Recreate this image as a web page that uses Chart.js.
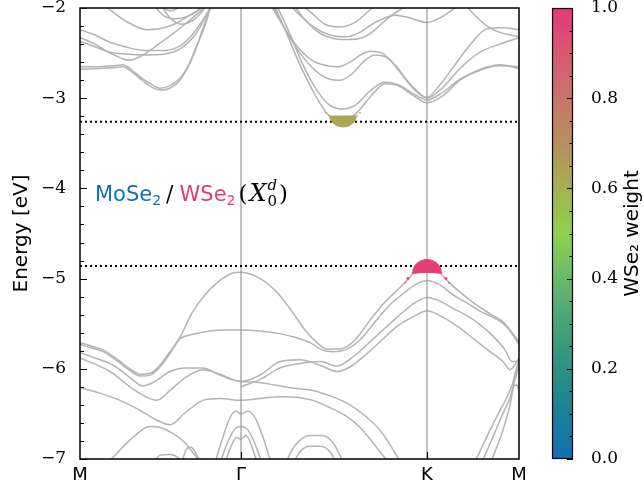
<!DOCTYPE html>
<html lang="en">
<head>
<meta charset="UTF-8">
<title>MoSe2/WSe2 band structure</title>
<script src="https://cdn.jsdelivr.net/npm/chart.js"></script>
<style>
    html, body { margin: 0; padding: 0; background: #fff; }
    #wrap { position: relative; width: 644px; height: 489px; }
    #wrap canvas { position: absolute; left: 0; top: 0; }
</style>
</head>
<body>
<div id="wrap">
    <canvas id="bands" width="644" height="489"></canvas>
    <canvas id="cbar" width="644" height="489"></canvas>
</div>
<script>
// k-path: M - Gamma - K - M
const kTicks = [0, 1.61, 3.47, 4.39];
const kLabels = ['M', 'Γ', 'K', 'M'];
const cbmEnergy = -3.26;
const vbmEnergy = -4.86;

// conduction bands, [k, E(eV)]
const c1 = [[1.92,-1.91],[2.05,-2.24],[2.20,-2.63],[2.35,-2.96],[2.48,-3.18],[2.63,-3.26],[2.77,-3.16],[2.90,-2.99],[3.05,-2.84],[3.18,-2.86],[3.32,-2.96],[3.47,-3.05],[3.62,-2.98],[3.80,-2.80],[4.00,-2.69],[4.20,-2.64],[4.39,-2.65]];
const c2 = [[1.94,-1.91],[2.08,-2.24],[2.23,-2.63],[2.38,-2.93],[2.50,-3.08],[2.62,-3.12],[2.75,-3.08],[2.90,-2.92],[3.05,-2.82],[3.18,-2.85],[3.32,-2.94],[3.47,-3.02],[3.62,-2.94],[3.80,-2.79],[4.00,-2.68],[4.20,-2.63],[4.39,-2.67]];
const c3 = [[1.90,-1.91],[2.03,-2.19],[2.18,-2.47],[2.35,-2.69],[2.50,-2.79],[2.60,-2.80],[2.72,-2.73],[2.85,-2.58],[2.95,-2.52],[3.07,-2.55],[3.20,-2.71],[3.33,-2.89],[3.47,-3.00],[3.62,-2.89],[3.80,-2.67],[4.00,-2.49],[4.20,-2.40],[4.39,-2.33]];
const c4 = [[1.88,-1.91],[2.01,-2.16],[2.16,-2.41],[2.32,-2.58],[2.47,-2.64],[2.58,-2.65],[2.70,-2.60],[2.82,-2.51],[2.90,-2.48],[3.02,-2.50],[3.15,-2.63],[3.30,-2.84],[3.47,-2.99],[3.60,-2.85],[3.75,-2.63],[3.90,-2.41],[4.07,-2.23],[4.23,-2.22],[4.39,-2.24]];
const c5 = [[2.05,-1.91],[2.20,-2.08],[2.35,-2.22],[2.50,-2.30],[2.65,-2.32],[2.80,-2.27],[2.92,-2.18],[3.05,-2.11],[3.15,-2.08],[3.30,-2.11],[3.47,-2.16],[3.60,-2.11],[3.72,-2.02],[3.80,-1.94]];
const c6 = [[2.10,-1.91],[2.25,-2.13],[2.40,-2.28],[2.55,-2.34],[2.70,-2.35],[2.82,-2.33],[2.92,-2.27],[3.03,-2.16],[3.13,-2.07],[3.23,-2.00],[3.30,-1.94]];
const c7 = [[2.15,-1.91],[2.30,-2.04],[2.45,-2.18],[2.60,-2.21],[2.75,-2.16],[2.90,-2.02],[2.98,-1.94]];
const c8 = [[3.82,-1.93],[3.95,-2.08],[4.07,-2.20],[4.20,-2.27],[4.39,-2.32]];
const m1 = [[0.18,-1.91],[0.30,-2.02],[0.45,-2.14],[0.67,-2.24],[0.90,-2.20],[1.10,-2.08],[1.25,-1.97],[1.32,-1.91]];
const m2 = [[0,-2.24],[0.15,-2.30],[0.30,-2.38],[0.45,-2.43],[0.65,-2.47],[0.85,-2.47],[1.00,-2.42],[1.12,-2.30],[1.23,-2.13],[1.32,-1.97],[1.36,-1.91]];
const m3 = [[0,-2.33],[0.15,-2.40],[0.28,-2.49],[0.40,-2.55],[0.48,-2.58],[0.60,-2.54],[0.75,-2.43],[0.90,-2.31],[1.05,-2.18],[1.20,-2.04],[1.30,-1.94]];
const m4 = [[0,-2.37],[0.15,-2.43],[0.30,-2.49],[0.45,-2.51],[0.65,-2.52],[0.85,-2.51],[1.02,-2.44],[1.15,-2.30],[1.25,-2.11],[1.33,-1.94]];
const m5 = [[0,-2.65],[0.20,-2.65],[0.35,-2.64],[0.43,-2.63],[0.52,-2.69],[0.62,-2.78],[0.72,-2.85],[0.80,-2.89],[0.90,-2.86],[1.00,-2.78],[1.10,-2.60],[1.18,-2.38],[1.25,-2.16],[1.31,-1.97],[1.33,-1.91]];
const m6 = [[0,-2.68],[0.20,-2.67],[0.35,-2.66],[0.43,-2.65],[0.52,-2.71],[0.62,-2.80],[0.72,-2.88],[0.80,-2.91],[0.90,-2.89],[1.00,-2.80],[1.10,-2.61],[1.18,-2.39],[1.26,-2.16],[1.32,-1.94]];
const m7 = [[0.75,-1.91],[0.83,-2.00],[0.90,-2.03],[0.98,-2.00],[1.05,-1.93]];
const m8 = [[0.70,-1.91],[0.83,-2.08],[0.95,-2.12],[1.08,-2.09],[1.18,-2.03],[1.26,-1.94]];
const m9 = [[0.78,-1.91],[0.90,-2.11],[1.02,-2.18],[1.14,-2.13],[1.22,-2.04],[1.28,-1.94]];

// valence bands, [k, E(eV)]
const v1 = [[0,-5.71],[0.12,-5.75],[0.23,-5.79],[0.38,-5.90],[0.50,-6.00],[0.60,-6.06],[0.70,-6.05],[0.80,-5.96],[0.90,-5.81],[1.00,-5.65],[1.12,-5.38],[1.25,-5.18],[1.40,-5.02],[1.52,-4.94],[1.61,-4.93],[1.75,-4.97],[1.88,-5.06],[2.00,-5.19],[2.13,-5.38],[2.25,-5.57],[2.37,-5.71],[2.47,-5.78],[2.60,-5.78],[2.75,-5.68],[2.90,-5.46],[3.05,-5.26],[3.17,-5.13],[3.27,-5.02],[3.37,-4.90],[3.47,-4.86],[3.57,-4.90],[3.67,-5.02],[3.80,-5.15],[3.95,-5.28],[4.10,-5.39],[4.23,-5.48],[4.32,-5.60],[4.39,-5.70]];
const v2 = [[0,-5.73],[0.12,-5.77],[0.23,-5.81],[0.38,-5.92],[0.50,-6.02],[0.60,-6.08],[0.70,-6.07],[0.80,-5.98],[0.90,-5.83],[1.00,-5.67],[1.12,-5.62],[1.30,-5.58],[1.50,-5.57],[1.61,-5.57],[1.80,-5.58],[2.00,-5.61],[2.15,-5.65],[2.30,-5.71],[2.42,-5.79],[2.53,-5.81],[2.65,-5.79],[2.80,-5.68],[2.95,-5.48],[3.10,-5.29],[3.25,-5.15],[3.38,-5.05],[3.47,-5.02],[3.60,-5.07],[3.73,-5.18],[3.87,-5.27],[4.00,-5.36],[4.15,-5.44],[4.28,-5.55],[4.39,-5.73]];
const v3 = [[0,-5.82],[0.15,-5.88],[0.33,-5.96],[0.48,-6.08],[0.63,-6.19],[0.75,-6.14],[0.90,-6.03],[1.05,-5.99],[1.23,-5.99],[1.38,-6.06],[1.52,-6.12],[1.61,-6.14],[1.77,-6.15],[1.90,-6.17],[2.10,-6.21],[2.33,-6.24],[2.50,-6.30],[2.67,-6.38],[2.85,-6.52],[3.00,-6.68],[3.10,-6.84],[3.20,-7.03]];
const v4 = [[0,-5.88],[0.30,-6.03],[0.55,-6.24],[0.77,-6.35],[0.90,-6.24],[1.05,-6.10],[1.23,-6.01],[1.40,-6.06],[1.61,-6.14],[1.80,-6.07],[2.00,-5.92],[2.20,-5.90],[2.40,-5.96],[2.57,-6.03],[2.70,-5.98],[2.83,-5.87],[3.00,-5.70],[3.17,-5.53],[3.32,-5.43],[3.47,-5.36],[3.65,-5.44],[3.80,-5.55],[3.95,-5.68],[4.10,-5.81],[4.23,-5.92],[4.30,-6.01],[4.34,-5.97],[4.39,-5.88]];
const v5 = [[1.61,-6.20],[1.80,-6.12],[2.00,-5.99],[2.20,-5.94],[2.40,-5.92],[2.57,-5.97],[2.75,-5.85],[2.95,-5.65],[3.17,-5.43],[3.32,-5.29],[3.47,-5.21],[3.60,-5.25],[3.73,-5.33],[3.87,-5.41],[4.00,-5.51],[4.15,-5.66],[4.25,-5.79],[4.32,-5.92],[4.39,-5.92]];
const v6 = [[0,-6.21],[0.20,-6.27],[0.40,-6.35],[0.60,-6.46],[0.77,-6.57],[0.90,-6.62],[1.05,-6.49],[1.23,-6.35],[1.40,-6.33],[1.61,-6.35],[1.80,-6.33],[2.00,-6.31],[2.20,-6.32],[2.33,-6.35],[2.50,-6.43],[2.67,-6.53],[2.80,-6.65],[2.93,-6.82],[3.05,-6.99],[3.12,-7.08]];
const v7 = [[0.20,-7.12],[0.33,-6.98],[0.50,-6.79],[0.70,-6.64],[0.80,-6.65],[0.92,-6.71],[1.05,-6.82],[1.15,-6.96],[1.22,-7.06]];
const v8 = [[0.70,-7.12],[0.80,-6.96],[0.90,-6.95],[1.00,-7.01],[1.05,-7.12]];
const v9 = [[1.00,-7.12],[1.06,-6.90],[1.11,-6.87],[1.17,-6.96],[1.22,-7.08]];
const g1 = [[1.33,-7.12],[1.42,-6.79],[1.50,-6.54],[1.56,-6.47],[1.61,-6.50],[1.68,-6.47],[1.75,-6.54],[1.84,-6.79],[1.93,-7.12]];
const g2 = [[1.38,-7.12],[1.46,-6.86],[1.54,-6.68],[1.61,-6.64],[1.68,-6.68],[1.76,-6.86],[1.84,-7.12]];
const g3 = [[1.43,-7.12],[1.51,-6.86],[1.57,-6.76],[1.61,-6.78],[1.66,-6.74],[1.73,-6.90],[1.79,-7.12]];
const v10 = [[2.03,-7.12],[2.12,-6.90],[2.20,-6.79],[2.30,-6.74],[2.42,-6.74],[2.53,-6.82],[2.60,-6.96],[2.65,-7.08]];
const v11 = [[2.10,-7.12],[2.20,-6.92],[2.30,-6.86],[2.40,-6.86],[2.50,-6.92],[2.57,-7.06]];
const v12 = [[3.90,-7.12],[3.98,-6.96],[4.10,-6.68],[4.20,-6.46],[4.28,-6.29],[4.33,-6.15],[4.36,-6.01],[4.39,-5.90]];
const v13 = [[3.98,-7.12],[4.05,-6.96],[4.15,-6.70],[4.24,-6.47],[4.30,-6.32],[4.35,-6.12],[4.39,-5.96]];
const v14 = [[4.08,-7.12],[4.15,-6.92],[4.23,-6.68],[4.30,-6.40],[4.34,-6.19],[4.37,-6.18],[4.39,-6.24]];

// exciton weight on the electron (CBM) and hole (VBM) states
const cbmBlobK = [2.46,2.49,2.51,2.53,2.55,2.57,2.59,2.61,2.63,2.65,2.67,2.69,2.71,2.73,2.75,2.77,2.80];
const cbmBlobE = [-3.162,-3.193,-3.211,-3.225,-3.237,-3.246,-3.253,-3.257,-3.258,-3.257,-3.253,-3.246,-3.237,-3.225,-3.211,-3.193,-3.162];
const cbmBlobAmp = [0.12,0.12,0.24,0.43,0.59,0.70,0.79,0.84,0.86,0.84,0.79,0.70,0.59,0.43,0.24,0.12,0.12];
const cbmWeight = 0.63;
const vbmBlobK = [3.25,3.28,3.33,3.35,3.37,3.39,3.41,3.43,3.45,3.47,3.49,3.51,3.53,3.55,3.57,3.59,3.61,3.66,3.69];
const vbmBlobE = [-5.047,-4.999,-4.936,-4.916,-4.899,-4.885,-4.874,-4.866,-4.862,-4.860,-4.862,-4.866,-4.874,-4.885,-4.899,-4.916,-4.936,-4.999,-5.047];
const vbmBlobAmp = [0.12,0.20,0.16,0.38,0.57,0.73,0.85,0.93,0.98,1.00,0.98,0.93,0.85,0.73,0.57,0.38,0.16,0.20,0.12];
const vbmWeight = 0.98;

const condBands = [c1, c2, c3, c4, c5, c6, c7, c8, m1, m2, m3, m4, m5, m6, m7, m8, m9];
const valBands = [v1, v2, v3, v4, v5, v6, v7, v8, v9, g1, g2, g3, v10, v11, v12, v13, v14];

// colormap for WSe2 weight
const cmapStops = [
    [0.0, [16, 112, 180]], [0.1, [28, 128, 151]], [0.2, [46, 144, 132]],
    [0.3, [72, 162, 120]], [0.4, [106, 185, 106]], [0.5, [143, 209, 79]],
    [0.6, [166, 176, 82]], [0.7, [183, 142, 94]], [0.8, [200, 116, 106]],
    [0.9, [216, 88, 112]], [1.0, [232, 56, 122]]
];
function cmapColor(t) {
    for (let i = 1; i < cmapStops.length; i++) {
        const [t1, hi] = cmapStops[i];
        const [t0, lo] = cmapStops[i - 1];
        if (t <= t1) {
            const f = (t - t0) / (t1 - t0);
            const c = lo.map((v, j) => Math.round(v + f * (hi[j] - v)));
            return `rgb(${c[0]},${c[1]},${c[2]})`;
        }
    }
    return `rgb(${cmapStops[cmapStops.length - 1][1].join(',')})`;
}

Chart.defaults.font.family = '"DejaVu Sans", sans-serif';
Chart.defaults.color = '#000';
const serif = '"DejaVu Serif", serif';

const toXY = arr => arr.map(([k, e]) => ({ x: k, y: e }));
const bandStyle = {
    showLine: true, borderColor: '#b3b3b3', borderWidth: 1.5, pointRadius: 0,
    cubicInterpolationMode: 'monotone', capBezierPoints: false, clip: 0, order: 4
};
const straight = { showLine: true, pointRadius: 0, tension: 0, clip: 0 };

const datasets = [];
[...condBands, ...valBands].forEach(b => datasets.push({ ...bandStyle, data: toXY(b) }));
kTicks.slice(1, -1).forEach(k => datasets.push({
    ...straight, order: 3, borderColor: '#999', borderWidth: 1.2,
    data: [{ x: k, y: -7 }, { x: k, y: -2 }]
}));
[cbmEnergy, vbmEnergy].forEach(e => datasets.push({
    ...straight, order: 1, borderColor: '#000', borderWidth: 2, borderDash: [2, 3],
    data: [{ x: kTicks[0], y: e }, { x: kTicks[3], y: e }]
}));
datasets.push({
    showLine: false, order: 0, clip: 0, pointBorderWidth: 0,
    data: cbmBlobK.map((k, i) => ({ x: k, y: cbmBlobE[i] })),
    pointRadius: c => cbmBlobAmp[c.dataIndex] * 7,
    pointBackgroundColor: cmapColor(cbmWeight)
});
datasets.push({
    showLine: false, order: 0, clip: 0, pointBorderWidth: 0,
    data: vbmBlobK.map((k, i) => ({ x: k, y: vbmBlobE[i] })),
    pointRadius: c => vbmBlobAmp[c.dataIndex] * 7,
    pointBackgroundColor: cmapColor(vbmWeight)
});

function drawSystemLabel(ctx, x0, base) {
    const sans = '"DejaVu Sans", sans-serif';
    const blue = cmapColor(0), pink = cmapColor(1);
    ctx.save();
    ctx.textAlign = 'left';
    ctx.textBaseline = 'alphabetic';
    let x = x0;
    const put = (txt, font, color, dy = 0) => {
        ctx.font = font;
        ctx.fillStyle = color;
        ctx.fillText(txt, x, base + dy);
        return ctx.measureText(txt).width;
    };
    x += put('MoSe', `21px ${sans}`, blue);
    x += put('2', `14px ${sans}`, blue, 4) + 5;
    x += put('/', `22px ${serif}`, '#000') + 6;
    x += put('WSe', `21px ${sans}`, pink);
    x += put('2', `14px ${sans}`, pink, 4) + 3;
    x += put('(', `23px ${serif}`, '#000') + 2;
    x += put('X', `italic 24px ${serif}`, '#000') + 1;
    const wSub = put('0', `15px ${serif}`, '#000', 5);
    const wSup = put('d', `italic 15px ${serif}`, '#000', -11);
    x += Math.max(wSub, wSup) + 2;
    put(')', `23px ${serif}`, '#000');
    ctx.restore();
}

const mainDecor = {
    id: 'mainDecor',
    afterDraw(chart) {
        const { ctx, chartArea: a, scales: { x, y } } = chart;
        ctx.save();
        ctx.strokeStyle = '#000';
        ctx.lineWidth = 1.2;
        ctx.beginPath();
        for (let i = 0; i <= 25; i++) {
            const py = Math.round(y.getPixelForValue(-7 + i * 0.2)) + 0.5;
            const len = i % 5 === 0 ? 7 : 4;
            ctx.moveTo(a.left, py);
            ctx.lineTo(a.left + len, py);
        }
        kTicks.slice(1, -1).forEach(k => {
            const px = Math.round(x.getPixelForValue(k)) + 0.5;
            ctx.moveTo(px, a.bottom);
            ctx.lineTo(px, a.bottom - 7);
        });
        ctx.stroke();
        ctx.lineWidth = 1.5;
        ctx.strokeRect(a.left, a.top, a.right - a.left, a.bottom - a.top);

        ctx.fillStyle = '#000';
        ctx.font = '20px "DejaVu Sans"';
        ctx.textAlign = 'center';
        ctx.textBaseline = 'alphabetic';
        ctx.translate(27, (a.top + a.bottom) / 2);
        ctx.rotate(-Math.PI / 2);
        ctx.fillText('Energy [eV]', 0, 0);
        ctx.restore();

        drawSystemLabel(ctx, 95, 201);
    }
};

new Chart(document.getElementById('bands'), {
    type: 'line',
    data: { datasets },
    options: {
        responsive: false,
        animation: false,
        events: [],
        layout: { padding: { left: 0, right: 125, top: 8, bottom: 0 } },
        plugins: { legend: { display: false }, tooltip: { enabled: false } },
        scales: {
            x: {
                type: 'linear', min: kTicks[0], max: kTicks[3],
                grid: { display: false }, border: { display: false },
                afterBuildTicks: s => { s.ticks = kTicks.map(v => ({ value: v })); },
                afterFit: s => { s.height = 30; },
                ticks: {
                    autoSkip: false, maxRotation: 0, padding: -2,
                    font: { size: 18 },
                    callback: (v, i) => kLabels[i]
                }
            },
            y: {
                min: -7, max: -2,
                grid: { display: false }, border: { display: false },
                afterFit: s => { s.width = 80; s.paddingTop = 0; s.paddingBottom = 0; },
                ticks: {
                    stepSize: 1, padding: 6,
                    font: { family: serif, size: 17 },
                    callback: v => '\u2212' + Math.abs(v)
                }
            }
        }
    },
    plugins: [mainDecor]
});

// colour bar
const cbarDecor = {
    id: 'cbarDecor',
    afterDraw(chart) {
        const { ctx, chartArea: a, scales: { y } } = chart;
        ctx.save();
        ctx.strokeStyle = '#000';
        ctx.lineWidth = 1;
        ctx.beginPath();
        for (let i = 0; i <= 20; i++) {
            const py = Math.round(y.getPixelForValue(i * 0.05)) + 0.5;
            const len = i % 4 === 0 ? 6 : 3.5;
            ctx.moveTo(a.right, py);
            ctx.lineTo(a.right - len, py);
        }
        ctx.stroke();
        ctx.lineWidth = 1.2;
        ctx.strokeRect(a.left + 0.5, a.top + 0.5, a.right - a.left - 1, a.bottom - a.top - 1);
        ctx.fillStyle = '#000';
        ctx.font = '20px "DejaVu Sans"';
        ctx.textAlign = 'center';
        ctx.textBaseline = 'alphabetic';
        ctx.translate(638, (a.top + a.bottom) / 2);
        ctx.rotate(-Math.PI / 2);
        ctx.fillText('WSe\u2082 weight', 0, 0);
        ctx.restore();
    }
};

new Chart(document.getElementById('cbar'), {
    type: 'bar',
    data: {
        labels: ['weight'],
        datasets: [{
            data: [[0, 1]],
            borderWidth: 0,
            barPercentage: 1,
            categoryPercentage: 1,
            backgroundColor: c => {
                const area = c.chart.chartArea;
                if (!area) return null;
                const g = c.chart.ctx.createLinearGradient(0, area.bottom, 0, area.top);
                cmapStops.forEach(([t, rgb]) => g.addColorStop(t, `rgb(${rgb.join(',')})`));
                return g;
            }
        }]
    },
    options: {
        responsive: false,
        animation: false,
        events: [],
        layout: { padding: { left: 552, right: 0, top: 8, bottom: 30 } },
        plugins: { legend: { display: false }, tooltip: { enabled: false } },
        scales: {
            x: { display: false },
            y: {
                position: 'right', min: 0, max: 1,
                grid: { display: false }, border: { display: false },
                afterFit: s => { s.width = 71; s.paddingTop = 0; s.paddingBottom = 0; },
                ticks: {
                    stepSize: 0.2, padding: 10,
                    font: { family: serif, size: 17 },
                    callback: v => v.toFixed(1)
                }
            }
        }
    },
    plugins: [cbarDecor]
});
</script>
</body>
</html>
